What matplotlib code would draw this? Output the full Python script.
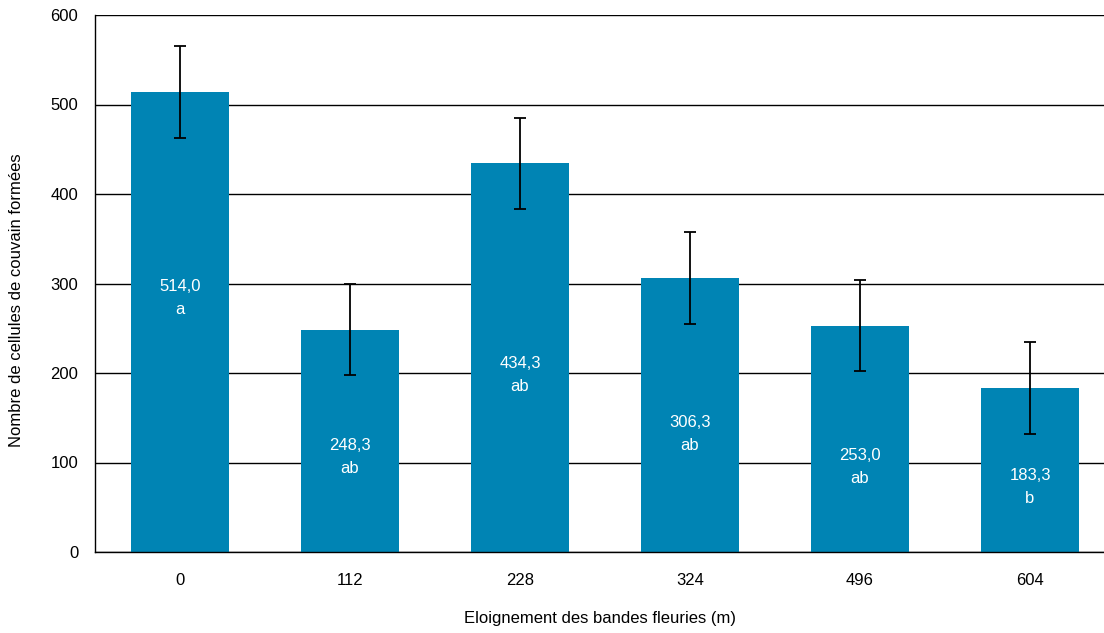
import matplotlib
matplotlib.use("Agg")
import matplotlib.pyplot as plt
import numpy as np

plt.rcParams['font.family'] = ['Liberation Sans', 'DejaVu Sans']

distances = ["0", "112", "228", "324", "496", "604"]
cells = [514.0, 248.3, 434.3, 306.3, 253.0, 183.3]
errors = [51, 51, 51, 51, 51, 51]
letters = ["a", "ab", "ab", "ab", "ab", "b"]

# vertical spot (data units) of the label block inside each bar
label_y = [284, 106, 198, 132, 95, 73]

bar_color = "#0084b4"
fontsize = 12

fig = plt.figure(figsize=(11.04, 6.33), dpi=100)
ax = fig.add_axes([95 / 1104, 81 / 633, 1 - 95 / 1104, 537 / 633])

x = np.arange(len(distances))
ax.bar(x, cells, width=0.576, color=bar_color, zorder=2)
ax.errorbar(x, cells, yerr=errors, fmt="none", ecolor="black",
            elinewidth=1.3, capsize=4, capthick=1.3, zorder=3)

for xi, v, lab, ly in zip(x, cells, letters, label_y):
    txt = "{0:.1f}".format(v).replace(".", ",") + "\n" + lab
    ax.text(xi, ly, txt, ha="center", va="center", color="white",
            fontsize=fontsize, linespacing=1.65, zorder=4)

ax.set_ylim(0, 600)
ax.set_yticks(range(0, 601, 100))
ax.set_xlim(-0.5, 5.435)
ax.set_xticks(x)
ax.set_xticklabels(distances)
ax.tick_params(length=0, labelsize=fontsize)
ax.tick_params(axis="y", pad=12)
ax.tick_params(axis="x", pad=15)
ax.yaxis.grid(True, color="black", linewidth=1, zorder=0)
ax.set_axisbelow(True)

for side in ["top", "right"]:
    ax.spines[side].set_visible(False)
ax.spines["left"].set_linewidth(1)
ax.spines["bottom"].set_linewidth(1)

ax.set_xlabel("Eloignement des bandes fleuries (m)", fontsize=fontsize, labelpad=17)
ax.set_ylabel("Nombre de cellules de couvain formées", fontsize=fontsize)
ax.yaxis.set_label_coords(-0.0704, 0.469)

fig.savefig("out.png", dpi=100)
